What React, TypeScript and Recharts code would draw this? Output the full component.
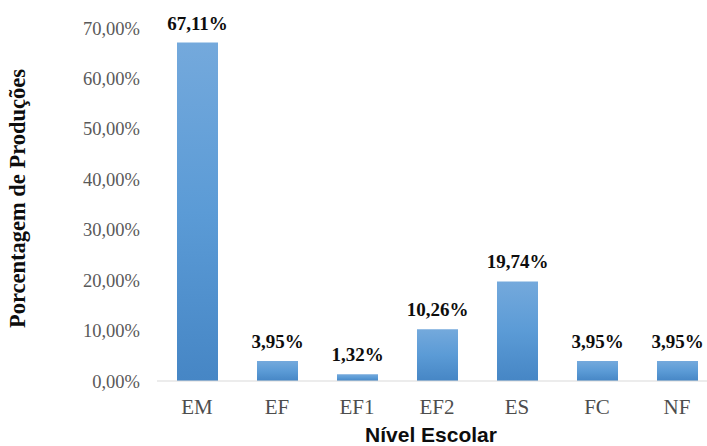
// Bar chart: percentage of productions by school level (Recharts)

import { BarChart, Bar, XAxis, YAxis, LabelList, Label } from 'recharts';

const categories = ['EM', 'EF', 'EF1', 'EF2', 'ES', 'FC', 'NF'];
const percentages = [67.11, 3.95, 1.32, 10.26, 19.74, 3.95, 3.95];
const yTicks = [0, 10, 20, 30, 40, 50, 60, 70];

const SERIF = '"Liberation Serif", "Times New Roman", serif';
const SANS = '"Liberation Sans", Arial, sans-serif';

const data = categories.map((name, i) => ({ name, value: percentages[i] }));

const pct = (v: number) => `${v.toFixed(2).replace('.', ',')}%`;

function YTitle(props: any) {
  const { viewBox } = props;
  const x = viewBox.x + 25;
  const y = viewBox.y + viewBox.height / 2 - 6;
  return (
    <text
      x={x}
      y={y}
      transform={`rotate(-90, ${x}, ${y})`}
      textAnchor="middle"
      fontFamily={SERIF}
      fontWeight="bold"
      fontSize={22.5}
      fill="#0d0d0d"
    >
      Porcentagem de Produções
    </text>
  );
}

export default function App() {
  return (
    <div style={{ position: 'absolute', left: 0, top: 0, width: 707, height: 446, overflow: 'hidden', background: '#fff' }}>
      <BarChart
        width={720}
        height={446}
        data={data}
        margin={{ top: 28, right: 3, bottom: 0, left: 0 }}
        barSize={41}
      >
        <defs>
          <linearGradient id="barGrad" x1="0" y1="0" x2="0" y2="1">
            <stop offset="0%" stopColor="#74a9dc" />
            <stop offset="50%" stopColor="#5b9bd6" />
            <stop offset="100%" stopColor="#4686c5" />
          </linearGradient>
        </defs>
        <XAxis
          dataKey="name"
          height={65}
          axisLine={{ stroke: '#d9d9d9', strokeWidth: 1 }}
          tickLine={false}
          tickSize={0}
          tickMargin={18}
          tick={{ fill: '#4d4d4d', fontFamily: SERIF, fontSize: 21 }}
        >
          <Label
            value="Nível Escolar"
            position="insideBottom"
            offset={4}
            dx={-6}
            style={{ fontFamily: SANS, fontWeight: 'bold', fontSize: 21, fill: '#0d0d0d' }}
          />
        </XAxis>
        <YAxis
          width={157}
          domain={[0, 70]}
          ticks={yTicks}
          tickFormatter={pct}
          axisLine={false}
          tickLine={false}
          tickSize={0}
          tickMargin={17}
          tick={{ fill: '#595959', fontFamily: SERIF, fontSize: 18.5 }}
        >
          <Label content={<YTitle />} />
        </YAxis>
        <Bar dataKey="value" fill="url(#barGrad)" isAnimationActive={false}>
          <LabelList
            dataKey="value"
            position="top"
            offset={13}
            formatter={(v: any) => pct(Number(v))}
            style={{ fontFamily: SERIF, fontWeight: 'bold', fontSize: 19, fill: '#0d0d0d' }}
          />
        </Bar>
      </BarChart>
    </div>
  );
}
